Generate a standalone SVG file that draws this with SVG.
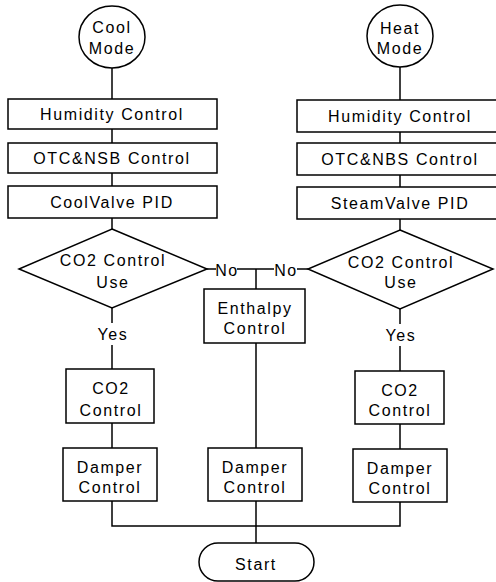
<svg xmlns="http://www.w3.org/2000/svg" width="496" height="582" viewBox="0 0 496 582">
<style>
.n{fill:#fff;stroke:#000;stroke-width:1.5}
.t{font-family:"Liberation Sans",Arial,sans-serif;font-size:16px;letter-spacing:1.6px;text-anchor:middle;fill:#000}
.c line,.c polyline{stroke:#000;stroke-width:1.5;fill:none}
</style>
<rect width="496" height="582" fill="#fff"/>
<g class="c" id="connectors">
<line x1="112" y1="68" x2="112" y2="99"/>
<line x1="112" y1="129" x2="112" y2="143"/>
<line x1="112" y1="173" x2="112" y2="186"/>
<line x1="112" y1="218" x2="112" y2="229"/>
<line x1="400" y1="67" x2="400" y2="100"/>
<line x1="400" y1="132" x2="400" y2="143"/>
<line x1="400" y1="175" x2="400" y2="187"/>
<line x1="400" y1="219" x2="400" y2="230"/>
<line x1="112" y1="308" x2="112" y2="323"/>
<line x1="112" y1="345" x2="112" y2="369"/>
<line x1="112" y1="423" x2="112" y2="448"/>
<line x1="400" y1="309" x2="400" y2="324"/>
<line x1="400" y1="346" x2="400" y2="371"/>
<line x1="400" y1="424" x2="400" y2="449"/>
<polyline points="112,501 112,526 400,526 400,502"/>
<line x1="256" y1="501" x2="256" y2="543"/>
<line x1="207" y1="269" x2="216" y2="269"/>
<line x1="237" y1="269" x2="274" y2="269"/>
<line x1="297" y1="269" x2="308" y2="269"/>
<line x1="256" y1="269" x2="256" y2="289"/>
<line x1="256" y1="343" x2="256" y2="448"/>
<text class="t" x="227" y="276">No</text>
<text class="t" x="286" y="276">No</text>
<text class="t" x="113" y="340">Yes</text>
<text class="t" x="401" y="341">Yes</text>
</g>
<g id="cool-mode"><ellipse class="n" cx="112" cy="37" rx="33" ry="31"/><text class="t" x="112" y="33">Cool</text><text class="t" x="112" y="54">Mode</text></g>
<g id="heat-mode"><ellipse class="n" cx="400" cy="36" rx="33" ry="31"/><text class="t" x="400" y="34">Heat</text><text class="t" x="400" y="54">Mode</text></g>
<g id="humidity-left"><rect class="n" x="8" y="99" width="209" height="30"/><text class="t" x="112" y="120">Humidity Control</text></g>
<g id="otc-left"><rect class="n" x="8" y="143" width="209" height="30"/><text class="t" x="112" y="164">OTC&amp;NSB Control</text></g>
<g id="coolvalve"><rect class="n" x="8" y="186" width="209" height="32"/><text class="t" x="112" y="208">CoolValve PID</text></g>
<g id="humidity-right"><rect class="n" x="297" y="100" width="207" height="32"/><text class="t" x="400" y="122">Humidity Control</text></g>
<g id="otc-right"><rect class="n" x="297" y="143" width="207" height="32"/><text class="t" x="400" y="165">OTC&amp;NBS Control</text></g>
<g id="steamvalve"><rect class="n" x="297" y="187" width="207" height="32"/><text class="t" x="400" y="209">SteamValve PID</text></g>
<g id="co2-use-left"><polygon class="n" points="112,229 207,269 112,308 19,269"/><text class="t" x="113" y="266">CO2 Control</text><text class="t" x="113" y="288">Use</text></g>
<g id="co2-use-right"><polygon class="n" points="400,230 493,269 400,309 308,269"/><text class="t" x="401" y="268">CO2 Control</text><text class="t" x="401" y="288">Use</text></g>
<g id="enthalpy"><rect class="n" x="204" y="289" width="101" height="54"/><text class="t" x="255" y="314">Enthalpy</text><text class="t" x="255" y="334">Control</text></g>
<g id="co2-left"><rect class="n" x="66" y="369" width="88" height="54"/><text class="t" x="111" y="394">CO2</text><text class="t" x="111" y="416">Control</text></g>
<g id="co2-right"><rect class="n" x="355" y="371" width="89" height="53"/><text class="t" x="400" y="396">CO2</text><text class="t" x="400" y="416">Control</text></g>
<g id="damper-left"><rect class="n" x="63" y="448" width="94" height="53"/><text class="t" x="110" y="473">Damper</text><text class="t" x="110" y="493">Control</text></g>
<g id="damper-mid"><rect class="n" x="208" y="448" width="94" height="53"/><text class="t" x="255" y="473">Damper</text><text class="t" x="255" y="493">Control</text></g>
<g id="damper-right"><rect class="n" x="353" y="449" width="94" height="53"/><text class="t" x="400" y="474">Damper</text><text class="t" x="400" y="494">Control</text></g>
<g id="start"><rect class="n" x="199" y="543" width="115" height="38" rx="19"/><text class="t" x="256" y="570">Start</text></g>
</svg>
